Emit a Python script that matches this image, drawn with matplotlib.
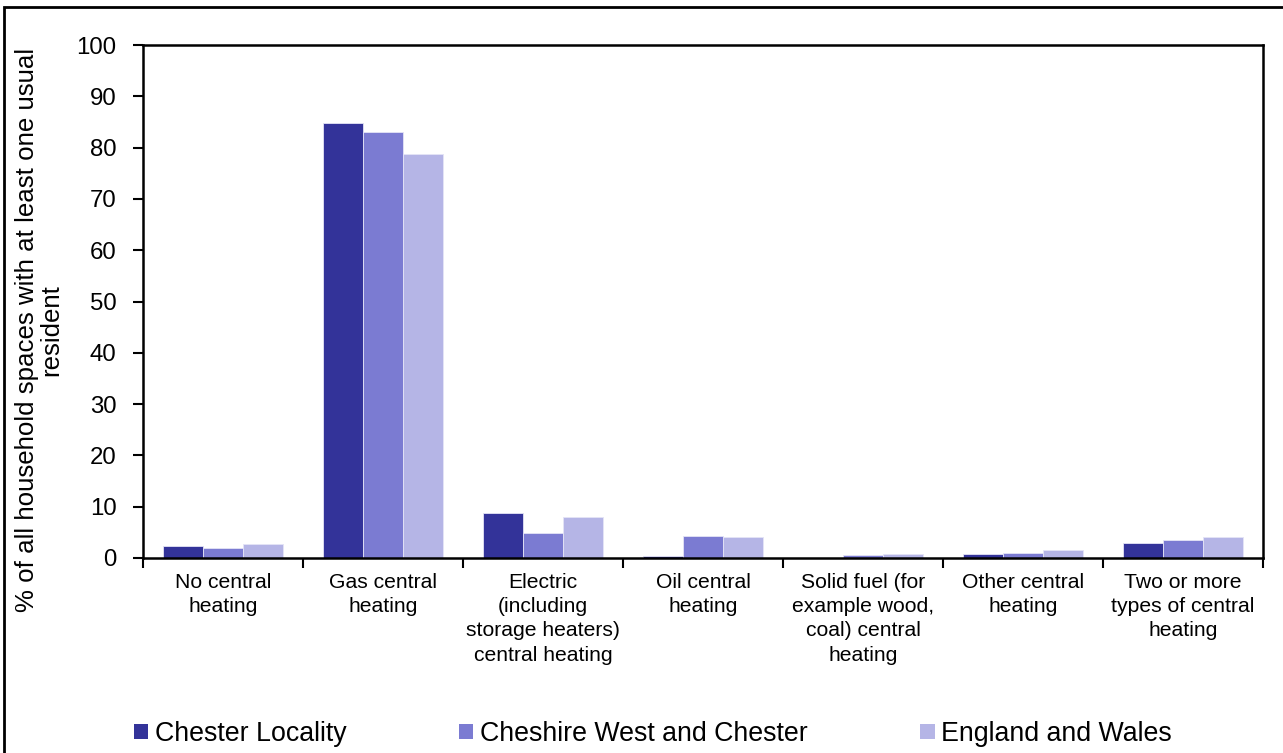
import matplotlib
matplotlib.use("Agg")
import matplotlib.pyplot as plt
import numpy as np
from matplotlib.patches import Rectangle

plt.rcParams['font.family'] = ['Liberation Sans', 'DejaVu Sans']

categories = [
    "No central\nheating",
    "Gas central\nheating",
    "Electric\n(including\nstorage heaters)\ncentral heating",
    "Oil central\nheating",
    "Solid fuel (for\nexample wood,\ncoal) central\nheating",
    "Other central\nheating",
    "Two or more\ntypes of central\nheating",
]
series_names = ["Chester Locality", "Cheshire West and Chester", "England and Wales"]
chester_locality = [2.3, 84.7, 8.85, 0.3, 0.05, 0.7, 2.85]
cheshire_wc = [2.0, 83.1, 4.95, 4.35, 0.5, 0.9, 3.6]
england_wales = [2.7, 78.7, 8.0, 4.0, 0.7, 1.5, 4.0]
series_values = [chester_locality, cheshire_wc, england_wales]
colors = ["#333399", "#7B7BD2", "#B5B5E6"]
yticks = list(range(0, 101, 10))
ylabel = "% of all household spaces with at least one usual\nresident"

W, H = 1283, 753
fig = plt.figure(figsize=(W / 100, H / 100), dpi=100)
ax = fig.add_axes([143 / W, (H - 558) / H, (1263 - 143) / W, 513 / H])

x = np.arange(len(categories))
bw = 0.25
for i, (name, vals) in enumerate(zip(series_names, series_values)):
    ax.bar(x + (i - 1) * bw, vals, width=bw, color=colors[i], label=name,
           edgecolor="#E4E4F6", linewidth=0.6)

ax.set_xlim(-0.5, len(categories) - 0.5)
ax.set_ylim(0, 100)
ax.set_yticks(yticks)
ax.tick_params(axis='y', labelsize=17.3, length=7, width=1.5, pad=12, direction='out')
ax.set_xticks(x)
ax.set_xticklabels(categories, fontsize=15.2, linespacing=1.34)
ax.tick_params(axis='x', which='major', length=0, pad=11)
ax.set_xticks(np.arange(len(categories) + 1) - 0.5, minor=True)
ax.tick_params(axis='x', which='minor', length=7, width=1.5, direction='out')
for s in ax.spines.values():
    s.set_linewidth(1.8)
    s.set_color('black')

ax.set_ylabel(ylabel, fontsize=18.6, linespacing=1.0)
ax.yaxis.set_label_coords(-0.071, 0.444)

handles, labels = ax.get_legend_handles_labels()
leg = fig.legend(handles, labels, loc='center left', bbox_to_anchor=(134 / W, 1 - 734 / H),
                 ncol=3, fontsize=19.3, frameon=False, handlelength=0.53, handleheight=0.45,
                 handletextpad=0.25, columnspacing=4.2, borderaxespad=0, borderpad=0)
for h in leg.legend_handles:
    h.set_edgecolor('none')

fig.patches.append(Rectangle((4 / W, -0.1), 1.2, 1 - 7 / H + 0.1, transform=fig.transFigure,
                             fill=False, edgecolor='black', linewidth=2, figure=fig))

fig.savefig("out.png", dpi=100)
